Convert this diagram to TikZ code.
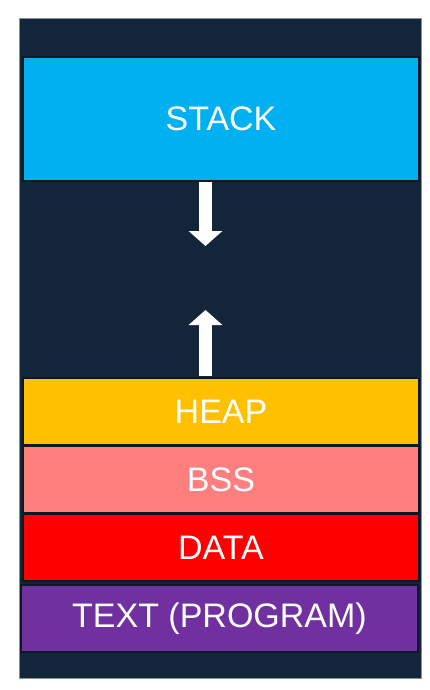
\documentclass[tikz,border=0pt]{standalone}
\usepackage{fontspec}
\setmainfont{Liberation Sans}
\usetikzlibrary{positioning}
\usetikzlibrary{arrows.meta}

\definecolor{memnavy}{HTML}{132538}
\definecolor{memedge}{HTML}{0D1824}
\definecolor{memframe}{HTML}{8A9099}
\definecolor{stackblue}{HTML}{00B0F0}
\definecolor{heapgold}{HTML}{FFC000}
\definecolor{bsspink}{HTML}{FF7F7F}
\definecolor{datared}{HTML}{FF0000}
\definecolor{textpurple}{HTML}{7030A0}

\begin{document}
\begin{tikzpicture}[x=1pt, y=-1pt,
                      segment/.style={rectangle, draw=memedge, line width=1.5pt, text=white, font=\fontsize{34}{40}\selectfont, minimum width=396pt, minimum height=67pt, inner sep=0pt, outer sep=0pt},
                      growarrow/.style={white, line width=13pt, -{Triangle[width=33pt, length=15pt]}},
                  ]
                  \useasboundingbox (0,0) rectangle (429,690);
                  \draw[fill=memnavy, draw=memframe, line width=1pt] (19,19) rectangle (421,678);

                  %Nodes
                  \node[segment, fill=stackblue, minimum height=124pt] (stack) at (221,119)   {STACK};
                  \node[segment, fill=heapgold]   (heap)  at (221,411.5)                      {HEAP};
                  \node[segment, fill=bsspink]    (bss)   [below=1pt of heap]                 {BSS};
                  \node[segment, fill=datared]    (data)  [below=1pt of bss]                  {DATA};
                  \node[segment, fill=textpurple, minimum width=397pt] (text) [below=4pt of data, xshift=-1.5pt] {TEXT (PROGRAM)};

                  \coordinate (downtail) at (205.5,182);
                  \coordinate (downtip)  at (205.5,246);
                  \coordinate (uptail)   at (205.5,376);
                  \coordinate (uptip)    at (205.5,310);

                  %Lines
                  \draw[growarrow] (downtail) -- (downtip);
                  \draw[growarrow] (uptail) -- (uptip);
\end{tikzpicture}
\end{document}
